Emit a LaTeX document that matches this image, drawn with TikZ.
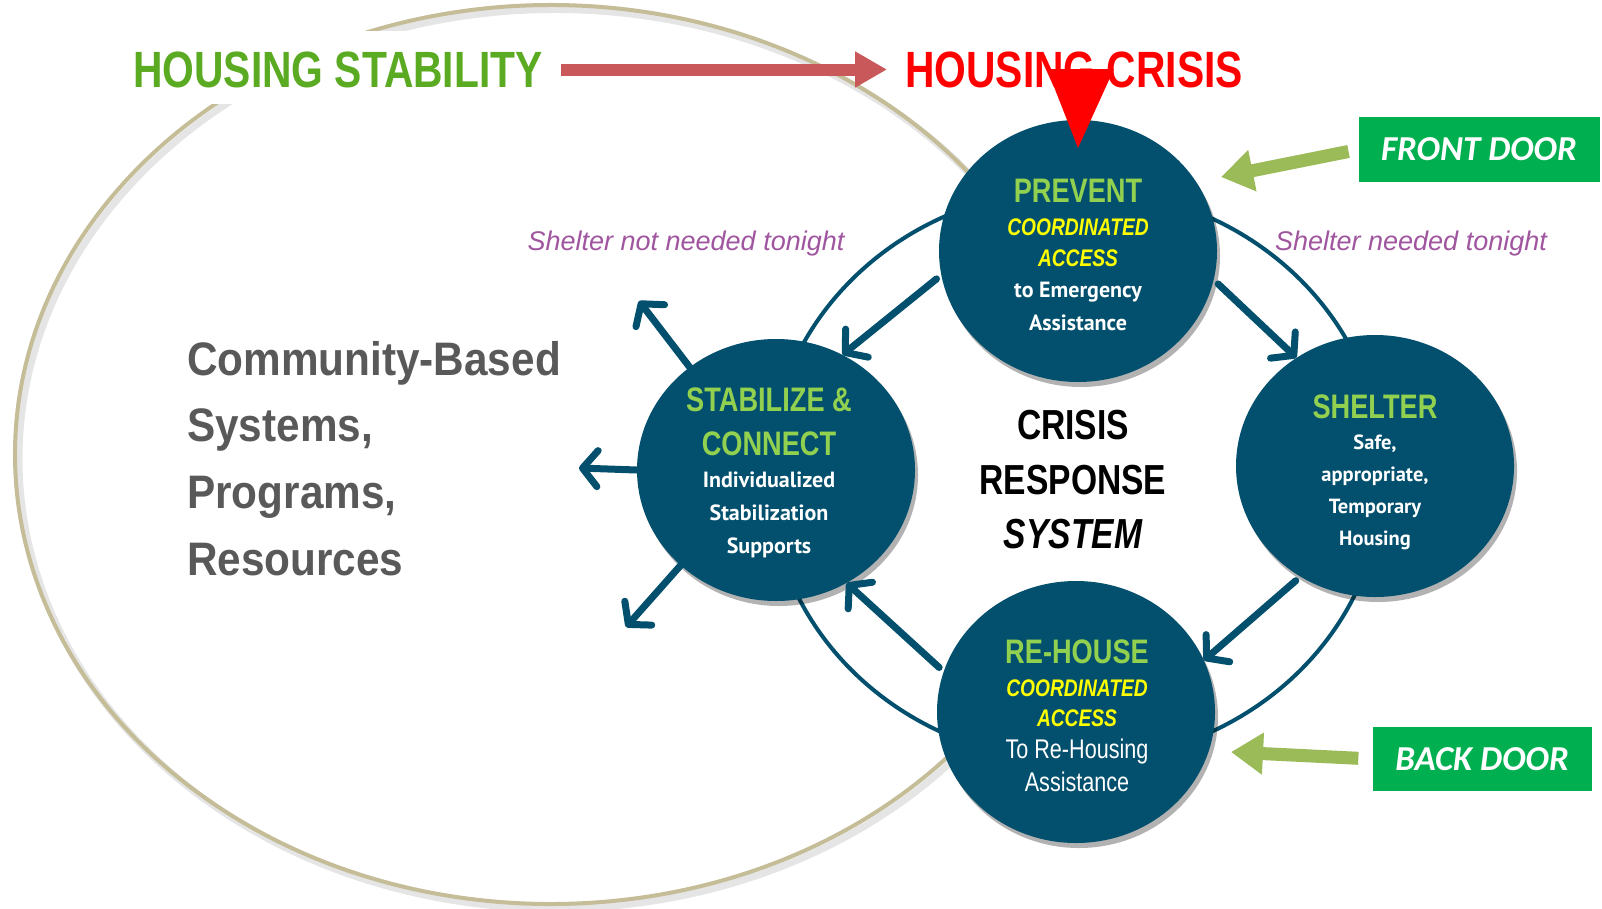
\documentclass[tikz,border=0pt]{standalone}
\usepackage{fontspec}
\setmainfont{Liberation Sans}
\newfontfamily\condf[FakeStretch=0.8]{Liberation Sans}
\newfontfamily\commf[FakeStretch=0.9]{Liberation Sans}
\newfontfamily\ptf{PT Sans}
\newfontfamily\carf{Carlito}
\usetikzlibrary{shapes.geometric,arrows.meta,shadows}
\definecolor{cteal}{HTML}{02506D}
\definecolor{hsgreen}{HTML}{5AAA22}
\definecolor{tgreen}{HTML}{92D050}
\definecolor{cyel}{HTML}{FFFF00}
\definecolor{ctan}{HTML}{C4BD97}
\definecolor{cpurp}{HTML}{A0559F}
\definecolor{dgreen}{HTML}{00B050}
\definecolor{darrow}{HTML}{9BBB59}
\definecolor{rarrow}{HTML}{C9585A}
\definecolor{cgray}{HTML}{595959}
\begin{document}
\begin{tikzpicture}[x=1pt,y=-1pt,
  circ/.style={ellipse, fill=cteal, minimum width=278, minimum height=262, inner sep=0,
    drop shadow={shadow xshift=3pt, shadow yshift=-5pt, opacity=0.3, fill=black}},
  flow/.style={draw=cteal, line width=7pt, line cap=round,
    -{Straight Barb[length=15pt,width=36pt,round]}},
  hsty/.style={font=\condf\bfseries\fontsize{51}{51}\selectfont, inner sep=0, anchor=west},
  ttl/.style={font=\condf\bfseries\fontsize{34}{34}\selectfont, text=tgreen, anchor=base, inner sep=0},
  cacc/.style={font=\condf\bfseries\itshape\fontsize{24}{24}\selectfont, text=cyel, anchor=base, inner sep=0},
  body/.style={font=\ptf\bfseries\fontsize{22}{22}\selectfont, text=white, anchor=base, inner sep=0},
  sbody/.style={font=\ptf\bfseries\fontsize{20.5}{20.5}\selectfont, text=white, anchor=base, inner sep=0},
  rbody/.style={font=\condf\fontsize{27}{27}\selectfont, text=white, anchor=base, inner sep=0},
  crs/.style={font=\condf\bfseries\fontsize{42}{42}\selectfont, text=black, anchor=base, inner sep=0},
  comm/.style={font=\commf\bfseries\fontsize{47}{47}\selectfont, text=cgray, anchor=base west, inner sep=0},
  purp/.style={font=\itshape\fontsize{27}{27}\selectfont, text=cpurp, anchor=base, inner sep=0},
  door/.style={rectangle, fill=dgreen, text=white, font=\carf\bfseries\itshape\fontsize{35}{35}\selectfont, inner sep=0},
  doorarrow/.style={draw=darrow, line width=13pt, -{Triangle[length=32pt,width=40pt]}, shorten <=10pt},
  redarrow/.style={draw=rarrow, line width=12pt, -{Triangle[length=32pt,width=34pt]}, shorten <=18pt, shorten >=18pt}
]
\useasboundingbox (0,0) rectangle (1602,908);
\fill[white] (0,0) rectangle (1602,908);

% large community ellipse (partial arc) with shadow
\draw[line width=7pt, black, opacity=0.10] (555,459) ++(40:536 and 449.5) arc[start angle=40,end angle=325,x radius=536,y radius=449.5];
\draw[line width=4pt, ctan] (551,454.5) ++(40:536 and 449.5) arc[start angle=40,end angle=325,x radius=536,y radius=449.5];

% white box behind left title
\fill[white] (110,31) rectangle (556,104);

% titles
\node[hsty, text=hsgreen] (hs) at (133,69.5) {HOUSING STABILITY};
\node[hsty, text=red] (hc) at (905,69.5) {HOUSING CRISIS};
\draw[redarrow] (hs.east) -- (hc.west);

% ring
\draw[cteal, line width=4pt] (1076,475) ellipse [x radius=307, y radius=286];

% circles
\node[circ] (prevent) at (1078,251) {};
\node[circ] (stab) at (776,470) {};
\node[circ] (shelter) at (1375,466) {};
\node[circ] (rehouse) at (1076,712) {};

% red triangle
\fill[red] (1047,69) -- (1114,69) -- (1078,148) -- cycle;

% flows between circles
\draw[flow, shorten <=6pt] (prevent.190) -- (stab.60);
\draw[flow, shorten <=6pt] (prevent.348) -- (shelter.126);
\draw[flow, shorten <=6pt] (shelter.236) -- (rehouse.22);
\draw[flow, shorten <=6pt] (rehouse.163) -- (stab.302);

% outward arrows
\coordinate (o1) at (639,301);
\coordinate (o2) at (579,468);
\coordinate (o3) at (626,627);
\draw[flow] (stab.130) -- (o1);
\draw[flow] (stab.180) -- (o2);
\draw[flow] (stab.225) -- (o3);

% prevent text
\node[ttl] (p1) at (1078,202) {PREVENT};
\node[cacc] (p2) at (1078,235.5) {COORDINATED};
\node[cacc] (p3) at (1078,266) {ACCESS};
\node[body] (p4) at (1078,297.5) {to Emergency};
\node[body] (p5) at (1078,330.5) {Assistance};

% stabilize text
\node[ttl] (s1) at (769,411) {STABILIZE \&};
\node[ttl] (s2) at (769,455) {CONNECT};
\node[body] (s3) at (769,487.5) {Individualized};
\node[body] (s4) at (769,520.5) {Stabilization};
\node[body] (s5) at (769,553) {Supports};

% shelter text
\node[ttl] (h1) at (1375,418) {SHELTER};
\node[sbody] (h2) at (1375,449) {Safe,};
\node[sbody] (h3) at (1375,481) {appropriate,};
\node[sbody] (h4) at (1375,513) {Temporary};
\node[sbody] (h5) at (1375,545.5) {Housing};

% rehouse text
\node[ttl] (r1) at (1077,663.5) {RE-HOUSE};
\node[cacc] (r2) at (1077,696) {COORDINATED};
\node[cacc] (r3) at (1077,726.5) {ACCESS};
\node[rbody] (r4) at (1077,758.5) {To Re-Housing};
\node[rbody] (r5) at (1077,791) {Assistance};

% center text
\node[crs] (c1) at (1073,439) {CRISIS};
\node[crs] (c2) at (1073,494) {RESPONSE};
\node[crs, font=\condf\bfseries\itshape\fontsize{42}{42}\selectfont] (c3) at (1073,548) {SYSTEM};

% community text
\node[comm] (cm1) at (187,375) {Community-Based};
\node[comm] (cm2) at (187,441) {Systems,};
\node[comm] (cm3) at (187,508) {Programs,};
\node[comm] (cm4) at (187,575) {Resources};

% purple labels
\node[purp] (snn) at (686,250) {Shelter not needed tonight};
\node[purp] (sn) at (1411,250) {Shelter needed tonight};

% doors
\node[door, minimum width=241, minimum height=65] (front) at (1479,149.5) {FRONT DOOR};
\node[door, minimum width=219, minimum height=64] (back) at (1482,759) {BACK DOOR};
\coordinate (ftip) at (1221,177);
\coordinate (btip) at (1231,752);
\draw[doorarrow] (front.west) -- (ftip);
\draw[doorarrow, shorten <=14pt] (back.west) -- (btip);
\end{tikzpicture}
\end{document}
